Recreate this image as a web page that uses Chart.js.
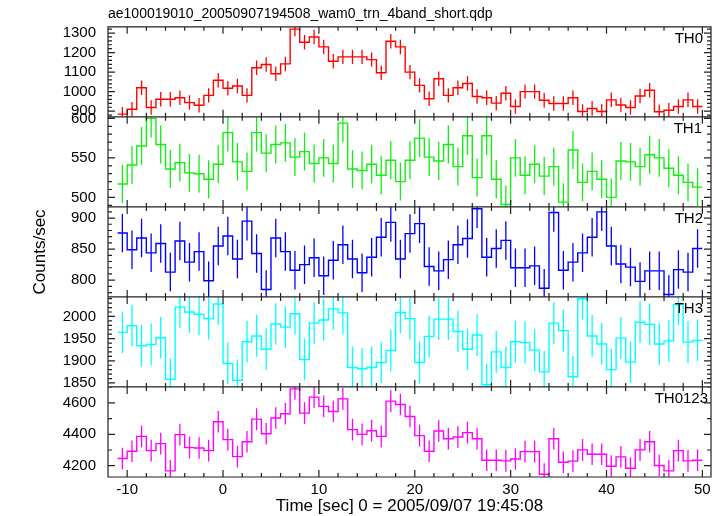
<!DOCTYPE html>
<html>
<head>
<meta charset="utf-8">
<script src="https://cdn.jsdelivr.net/npm/chart.js@4.4.1/dist/chart.umd.min.js"></script>
<style>
  html, body { margin: 0; padding: 0; background: #fff; }
</style>
</head>
<body>
<canvas id="lc" width="724" height="516"></canvas>
<script>
// bin centres (1 s bins), seconds from 2005/09/07 19:45:08
const times = [
  -10.5, -9.5, -8.5, -7.5, -6.5, -5.5, -4.5, -3.5, -2.5, -1.5, -0.5,
  0.5, 1.5, 2.5, 3.5, 4.5, 5.5, 6.5, 7.5, 8.5, 9.5,
  10.5, 11.5, 12.5, 13.5, 14.5, 15.5, 16.5, 17.5, 18.5, 19.5,
  20.5, 21.5, 22.5, 23.5, 24.5, 25.5, 26.5, 27.5, 28.5, 29.5,
  30.5, 31.5, 32.5, 33.5, 34.5, 35.5, 36.5, 37.5, 38.5, 39.5,
  40.5, 41.5, 42.5, 43.5, 44.5, 45.5, 46.5, 47.5, 48.5, 49.5
];
const halfBin = 0.5;

const th0 = [
  885, 910, 1020, 919, 961, 961, 969, 944, 930, 981,
  1058, 1017, 1029, 981, 1122, 1139, 1092, 1142, 1320, 1253,
  1280, 1229, 1156, 1178, 1178, 1178, 1164, 1097, 1258, 1229,
  1100, 1032, 964, 1066, 981, 1020, 1042, 975, 969, 941,
  992, 924, 1000, 1000, 956, 939, 939, 969, 898, 914,
  898, 958, 932, 919, 978, 1007, 897, 905, 924, 958,
  924
];
const th1 = [
  517, 541, 565, 600, 567, 536, 544, 531, 530, 523,
  542, 582, 545, 533, 582, 556, 567, 569, 551, 558,
  543, 550, 543, 594, 536, 534, 542, 528, 547, 520,
  547, 575, 551, 546, 567, 539, 578, 525, 578, 523,
  491, 550, 528, 542, 527, 539, 494, 560, 519, 533,
  523, 500, 546, 545, 539, 554, 550, 537, 528, 519,
  513
];
const th2 = [
  876, 849, 868, 844, 859, 813, 863, 829, 846, 799,
  855, 871, 834, 895, 843, 785, 868, 846, 816, 825,
  836, 807, 832, 857, 834, 812, 837, 869, 893, 834,
  875, 891, 822, 815, 833, 857, 867, 915, 837, 851,
  864, 820, 820, 823, 787, 909, 816, 829, 844, 869,
  910, 855, 826, 821, 798, 815, 815, 777, 817, 813,
  851
];
const th3 = [
  1964, 1979, 1934, 1937, 1952, 1858, 2021, 2010, 2005, 1995,
  2028, 1894, 1856, 1943, 1956, 1926, 1983, 1976, 2006, 1903,
  1985, 1992, 2017, 2008, 1885, 1882, 1885, 1896, 1923, 2009,
  1995, 1896, 1955, 1994, 1994, 1966, 1926, 1958, 1846, 1920,
  1885, 1943, 1941, 1924, 1875, 1985, 1968, 1864, 2040, 1956,
  1938, 1880, 1951, 1897, 1987, 1982, 1938, 1945, 2027, 1942,
  1946
];
const th0123 = [
  4246, 4292, 4387, 4296, 4341, 4167, 4398, 4315, 4313, 4296,
  4480, 4366, 4258, 4353, 4497, 4404, 4504, 4531, 4690, 4535,
  4637, 4578, 4546, 4626, 4430, 4400, 4423, 4387, 4612, 4590,
  4514, 4392, 4292, 4421, 4372, 4383, 4411, 4372, 4235, 4235,
  4231, 4243, 4290, 4290, 4146, 4372, 4222, 4229, 4301, 4273,
  4273, 4197, 4256, 4184, 4301, 4353, 4201, 4167, 4296, 4231,
  4235
];

// 1-sigma errors (roughly constant within each band)
const th0Err = 37;
const th1Err = 24;
const th2Err = 31;
const th3Err = 47;
const th0123Err = 69;

const xTicks = [-10, 0, 10, 20, 30, 40, 50];
const th0Ticks = [900, 1000, 1100, 1200, 1300];
const th1Ticks = [500, 550, 600];
const th2Ticks = [800, 850, 900];
const th3Ticks = [1850, 1900, 1950, 2000];
const th0123Ticks = [4200, 4400, 4600];

const panels = [
  { id: "y0", label: "TH0", values: th0, err: th0Err, ticks: th0Ticks, minor: 20, min: 871, max: 1332, color: "#ff0000", inset: 8 },
  { id: "y1", label: "TH1", values: th1, err: th1Err, ticks: th1Ticks, minor: 10, min: 488, max: 602, color: "#11ee11", inset: 9 },
  { id: "y2", label: "TH2", values: th2, err: th2Err, ticks: th2Ticks, minor: 10, min: 773, max: 918, color: "#0000ff", inset: 8 },
  { id: "y3", label: "TH3", values: th3, err: th3Err, ticks: th3Ticks, minor: 10, min: 1841, max: 2044, color: "#00ffff", inset: 8 },
  { id: "y4", label: "TH0123", values: th0123, err: th0123Err, ticks: th0123Ticks, minor: 100, min: 4128, max: 4702, color: "#ff00ff", inset: 3 },
];

const FONT = "'Liberation Sans', Arial, Helvetica, sans-serif";
Chart.defaults.font.family = FONT;
Chart.defaults.font.size = 15;
Chart.defaults.color = "#000";

function steps(values) {
  const pts = [];
  values.forEach((v, i) => {
    pts.push({ x: times[i] - halfBin, y: v }, { x: times[i] + halfBin, y: v });
  });
  return pts;
}

// error bars, frames, inward ticks and band labels, qdp style
const qdpFrame = {
  id: "qdpFrame",
  afterDatasetsDraw(chart) {
    const { ctx, chartArea: a, scales } = chart;
    const xs = scales.x;
    ctx.save();

    panels.forEach(p => {
      const ys = scales[p.id];
      ctx.save();
      ctx.beginPath();
      ctx.rect(a.left, ys.top, a.right - a.left, ys.bottom - ys.top);
      ctx.clip();
      ctx.strokeStyle = p.color;
      ctx.lineWidth = 1.3;
      ctx.beginPath();
      times.forEach((t, i) => {
        const px = xs.getPixelForValue(t);
        ctx.moveTo(px, ys.getPixelForValue(p.values[i] - p.err));
        ctx.lineTo(px, ys.getPixelForValue(p.values[i] + p.err));
      });
      ctx.stroke();
      ctx.restore();
    });

    ctx.strokeStyle = "#222";
    ctx.lineWidth = 1.2;
    ctx.beginPath();
    panels.forEach(p => {
      const ys = scales[p.id];
      ctx.rect(a.left, ys.top, a.right - a.left, ys.bottom - ys.top);
      // time ticks on top and bottom of each panel
      for (let t = -10; t <= 50; t += 2) {
        const px = xs.getPixelForValue(t);
        const len = t % 10 === 0 ? 7 : 4;
        ctx.moveTo(px, ys.top); ctx.lineTo(px, ys.top + len);
        ctx.moveTo(px, ys.bottom); ctx.lineTo(px, ys.bottom - len);
      }
      // rate ticks on both sides
      for (let v = Math.ceil(p.min / p.minor) * p.minor; v <= p.max; v += p.minor) {
        const py = ys.getPixelForValue(v);
        const len = p.ticks.includes(v) ? 7 : 4;
        ctx.moveTo(a.left, py); ctx.lineTo(a.left + len, py);
        ctx.moveTo(a.right, py); ctx.lineTo(a.right - len, py);
      }
    });
    ctx.stroke();

    ctx.fillStyle = "#000";
    ctx.font = "15px " + FONT;
    ctx.textAlign = "right";
    ctx.textBaseline = "alphabetic";
    panels.forEach(p => {
      ctx.fillText(p.label, a.right - p.inset, scales[p.id].top + 16);
    });
    ctx.restore();
  }
};

const yScales = {};
panels.forEach((p, i) => {
  yScales[p.id] = {
    type: "linear",
    position: "left",
    stack: "bands",
    stackWeight: 1,
    weight: panels.length - i,
    min: p.min,
    max: p.max,
    afterBuildTicks: s => { s.ticks = p.ticks.map(v => ({ value: v })); },
    afterFit: s => { s.width = 108; s.paddingTop = 0; s.paddingBottom = 0; },
    ticks: { padding: 12, autoSkip: false, callback: v => String(v) },
    grid: { display: false, drawTicks: false },
    border: { display: false },
    title: i === 2
      ? { display: true, text: "Counts/sec", font: { size: 17 }, padding: { top: 30, bottom: 0 } }
      : { display: false },
  };
});

new Chart(document.getElementById("lc"), {
  type: "line",
  data: {
    datasets: panels.map(p => ({
      label: p.label,
      data: steps(p.values),
      yAxisID: p.id,
      borderColor: p.color,
      borderWidth: 1.4,
      pointRadius: 0,
      fill: false,
      tension: 0,
    })),
  },
  options: {
    responsive: false,
    animation: false,
    devicePixelRatio: 1,
    layout: { padding: { left: 0, right: 13, top: 0, bottom: 0 } },
    scales: {
      x: {
        type: "linear",
        position: "bottom",
        min: -12,
        max: 50.9,
        afterBuildTicks: s => { s.ticks = xTicks.map(v => ({ value: v })); },
        afterFit: s => { s.height = 39; s.paddingLeft = 0; s.paddingRight = 0; },
        ticks: { padding: 4, autoSkip: false, maxRotation: 0, callback: v => String(v) },
        grid: { display: false, drawTicks: false },
        border: { display: false },
        title: {
          display: true,
          text: "Time [sec] 0 = 2005/09/07 19:45:08",
          font: { size: 17 },
          padding: { top: 0, bottom: -1 },
        },
      },
      ...yScales,
    },
    plugins: {
      legend: { display: false },
      tooltip: { enabled: false },
      title: {
        display: true,
        text: "ae100019010_20050907194508_wam0_trn_4band_short.qdp",
        align: "start",
        fullSize: false,
        font: { size: 14, weight: "normal" },
        padding: { top: 6, bottom: 4 },
      },
    },
  },
  plugins: [qdpFrame],
});
</script>
</body>
</html>
